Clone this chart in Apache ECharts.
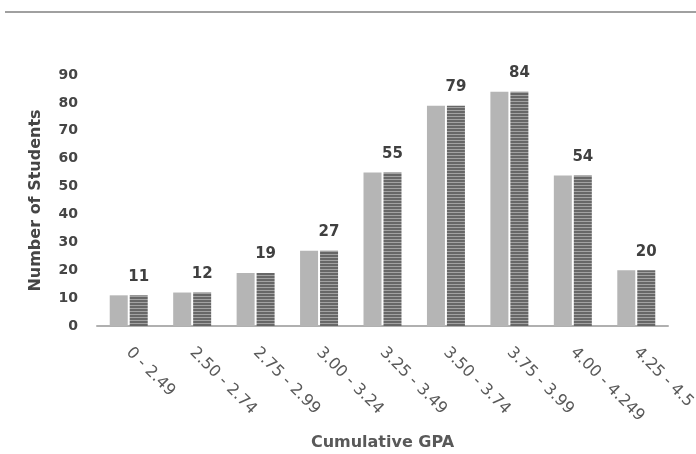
<!DOCTYPE html>
<html>
<head>
<meta charset="utf-8">
<script src="https://cdn.jsdelivr.net/npm/echarts@6/dist/echarts.min.js"></script>
<style>
html,body{margin:0;padding:0;background:#fff;}
#chart{width:696px;height:454px;}
</style>
</head>
<body>
<div id="chart"></div>
<script>
var categories = ['0 - 2.49','2.50 - 2.74','2.75 - 2.99','3.00 - 3.24','3.25 - 3.49','3.50 - 3.74','3.75 - 3.99','4.00 - 4.249','4.25 - 4.5'];
var seriesA = [11, 12, 19, 27, 55, 79, 84, 54, 20];
var seriesB = [11, 12, 19, 27, 55, 79, 84, 54, 20];
var yTicks = [0, 10, 20, 30, 40, 50, 60, 70, 80, 90];

function stripePattern() {
  var c = document.createElement('canvas');
  c.width = 4; c.height = 3;
  var ctx = c.getContext('2d');
  ctx.fillStyle = '#676767';
  ctx.fillRect(0, 0, 4, 2);
  ctx.fillStyle = '#a2a2a2';
  ctx.fillRect(0, 2, 4, 1);
  return c;
}

var chart = echarts.init(document.getElementById('chart'));
var font = '"DejaVu Sans", sans-serif';
chart.setOption({
  animation: false,
  backgroundColor: '#ffffff',
  graphic: [{
    type: 'line',
    shape: {x1: 5, y1: 12, x2: 696, y2: 12},
    style: {stroke: '#a0a0a0', lineWidth: 2}
  }],
  grid: {left: 97, right: 28, top: 75, bottom: 128, containLabel: false, outerBoundsMode: 'none'},
  xAxis: {
    type: 'category',
    data: categories,
    axisLine: {lineStyle: {color: '#b0b0b0', width: 2}},
    axisTick: {show: false},
    axisLabel: {rotate: -45, margin: 24, color: '#595959', fontSize: 16, fontFamily: font, interval: 0, hideOverlap: false},
    name: 'Cumulative GPA',
    nameLocation: 'middle',
    nameGap: 109,
    nameTextStyle: {color: '#595959', fontSize: 16, fontWeight: 'bold', fontFamily: font}
  },
  yAxis: {
    type: 'value',
    min: yTicks[0],
    max: yTicks[yTicks.length - 1],
    interval: 10,
    axisLine: {show: false},
    axisTick: {show: false},
    splitLine: {show: false},
    axisLabel: {margin: 19, color: '#454545', fontSize: 14, fontWeight: 'bold', fontFamily: font},
    name: 'Number of Students',
    nameLocation: 'middle',
    nameGap: 53,
    nameTextStyle: {color: '#454545', fontSize: 16, fontWeight: 'bold', fontFamily: font}
  },
  series: [{
    type: 'bar',
    data: seriesA,
    barWidth: 18,
    barGap: '11%',
    itemStyle: {color: '#b5b5b5'}
  }, {
    type: 'bar',
    data: seriesB,
    barWidth: 18,
    itemStyle: {color: {image: stripePattern(), repeat: 'repeat'}},
    label: {show: true, position: 'top', distance: 11, color: '#404040', fontSize: 15, fontWeight: 'bold', fontFamily: font}
  }]
});
</script>
</body>
</html>
